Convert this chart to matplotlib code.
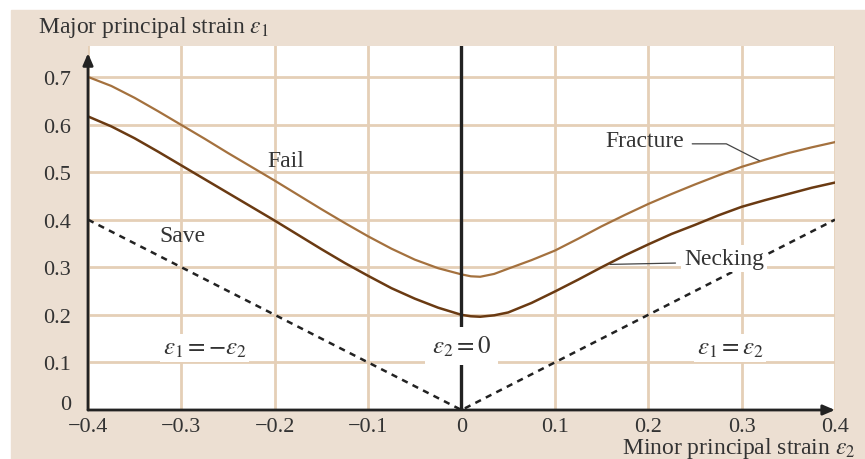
import matplotlib
matplotlib.use("Agg")
import matplotlib.pyplot as plt
from matplotlib.patches import Rectangle
from matplotlib.transforms import ScaledTranslation

# forming limit diagram
x_ticks = [-0.4, -0.3, -0.2, -0.1, 0, 0.1, 0.2, 0.3, 0.4]
x_tick_labels = ['\u22120.4', '\u22120.3', '\u22120.2', '\u22120.1', '0', '0.1', '0.2', '0.3', '0.4']
y_ticks = [0, 0.1, 0.2, 0.3, 0.4, 0.5, 0.6, 0.7]
y_tick_labels = ['0', '0.1', '0.2', '0.3', '0.4', '0.5', '0.6', '0.7']

strain2 = [-0.400, -0.375, -0.350, -0.325, -0.300, -0.275, -0.250, -0.225, -0.200,
           -0.175, -0.150, -0.125, -0.100, -0.075, -0.050, -0.025, 0.000, 0.010,
           0.020, 0.035, 0.050, 0.075, 0.100, 0.125, 0.150, 0.175, 0.200, 0.225,
           0.250, 0.275, 0.300, 0.325, 0.350, 0.375, 0.400]
fracture = [0.700, 0.681, 0.656, 0.628, 0.599, 0.570, 0.540, 0.511, 0.482,
            0.452, 0.422, 0.393, 0.365, 0.339, 0.316, 0.298, 0.285, 0.281,
            0.280, 0.286, 0.297, 0.315, 0.335, 0.360, 0.386, 0.410, 0.433, 0.454,
            0.474, 0.493, 0.511, 0.526, 0.540, 0.552, 0.563]
necking = [0.617, 0.596, 0.571, 0.543, 0.514, 0.485, 0.456, 0.427, 0.398,
           0.368, 0.338, 0.309, 0.282, 0.256, 0.234, 0.215, 0.200, 0.197,
           0.196, 0.199, 0.205, 0.225, 0.249, 0.274, 0.300, 0.325, 0.348, 0.370,
           0.389, 0.409, 0.427, 0.441, 0.454, 0.467, 0.478]

# limits for safe zone: e1 = -e2 and e1 = e2
safe_x = [-0.4, 0.0, 0.4]
safe_y = [0.4, 0.0, 0.4]

beige = '#ecdfd2'
grid_c = '#e5cfb7'
fracture_c = '#a4713e'
necking_c = '#6a3a12'
ink = '#222222'
text_c = '#333333'

plt.rcParams['font.family'] = ['Liberation Serif', 'DejaVu Serif']
plt.rcParams['mathtext.fontset'] = 'stix'

W, H = 865, 460
fig = plt.figure(figsize=(W / 100, H / 100), dpi=100)
fig.patches.append(Rectangle((11 / W, 0), 1 - 11 / W, 1 - 11 / H,
                             transform=fig.transFigure, color=beige, zorder=-5))

ax = fig.add_axes([88 / W, 1 - 411 / H, (835 - 88) / W, (411 - 47) / H])
ax.set_facecolor('white')
ax.set_xlim(-0.4, 0.4)
ax.set_ylim(0, 0.765)
for s in ax.spines.values():
    s.set_visible(False)

ax.set_xticks(x_ticks)
ax.set_xticklabels(x_tick_labels)
ax.set_yticks(y_ticks)
ax.set_yticklabels(y_tick_labels)
ax.tick_params(length=0, labelsize=16, labelcolor=text_c)
ax.tick_params(axis='y', pad=12)
ax.tick_params(axis='x', pad=5)
ax.grid(True, color=grid_c, lw=2.0)
ax.set_axisbelow(True)

# the "0" on the y axis sits a little above the x axis, like the reference
zero_lab = ax.get_yticklabels()[0]
zero_lab.set_transform(zero_lab.get_transform() +
                       ScaledTranslation(0, 6 / 72, fig.dpi_scale_trans))

# curves
ax.plot(strain2, fracture, color=fracture_c, lw=1.6, zorder=3)
ax.plot(strain2, necking, color=necking_c, lw=1.8, zorder=3)
ax.plot(safe_x, safe_y, color=ink, lw=1.8, linestyle=(0, (2.5, 2.2)), zorder=3)

# eps2 = 0 line
ax.axvline(0, color=ink, lw=2.4, zorder=3)

# axes with arrows
arrow = dict(arrowstyle='-|>,head_length=0.7,head_width=0.3', color=ink, lw=2.0,
             shrinkA=0, shrinkB=0)
ax.annotate('', xy=(-0.4, 0.75), xytext=(-0.4, 0), arrowprops=arrow,
            annotation_clip=False, zorder=5)
ax.annotate('', xy=(0.4, 0), xytext=(-0.4, 0), arrowprops=arrow,
            annotation_clip=False, zorder=5)

# labels
lab = 17
box = dict(facecolor='white', edgecolor='none', pad=2)
ax.text(-0.188, 0.524, 'Fail', fontsize=lab, color=text_c, ha='center', va='center')
ax.text(-0.2985, 0.366, 'Save', fontsize=lab, color=text_c, ha='center', va='center')
ax.text(-0.275, 0.13, r'$\varepsilon_1 = -\varepsilon_2$', fontsize=18, color=text_c,
        ha='center', va='center', bbox=box, zorder=4)
ax.text(0.0, 0.134, r'$\varepsilon_2 = 0$', fontsize=18, color=text_c,
        ha='center', va='center', bbox=dict(facecolor='white', edgecolor='none', pad=5), zorder=4)
ax.text(0.2875, 0.13, r'$\varepsilon_1 = \varepsilon_2$', fontsize=18, color=text_c,
        ha='center', va='center', bbox=box, zorder=4)

ax.annotate('Fracture', xy=(0.319, 0.524), xytext=(0.196, 0.566),
            fontsize=lab, color=text_c, ha='center', va='center',
            arrowprops=dict(arrowstyle='-', color='#444444', lw=0.9, relpos=(1, 0.35),
                            shrinkA=4, shrinkB=0,
                            connectionstyle='angle,angleA=0,angleB=153,rad=0'),
            zorder=4)
ax.annotate('Necking', xy=(0.159, 0.306), xytext=(0.281, 0.318),
            fontsize=lab, color=text_c, ha='center', va='center',
            bbox=dict(facecolor='white', edgecolor='none', pad=2),
            arrowprops=dict(arrowstyle='-', color='#444444', lw=0.9, relpos=(0, 0.3),
                            shrinkA=4, shrinkB=0),
            zorder=4)

fig.text(38 / W, 1 - 27 / H, r'Major principal strain $\varepsilon_1$', fontsize=lab,
         color=text_c, ha='left', va='center')
fig.text(856 / W, 1 - 449 / H, r'Minor principal strain $\varepsilon_2$', fontsize=lab,
         color=text_c, ha='right', va='center')

fig.savefig('out.png', dpi=100)
